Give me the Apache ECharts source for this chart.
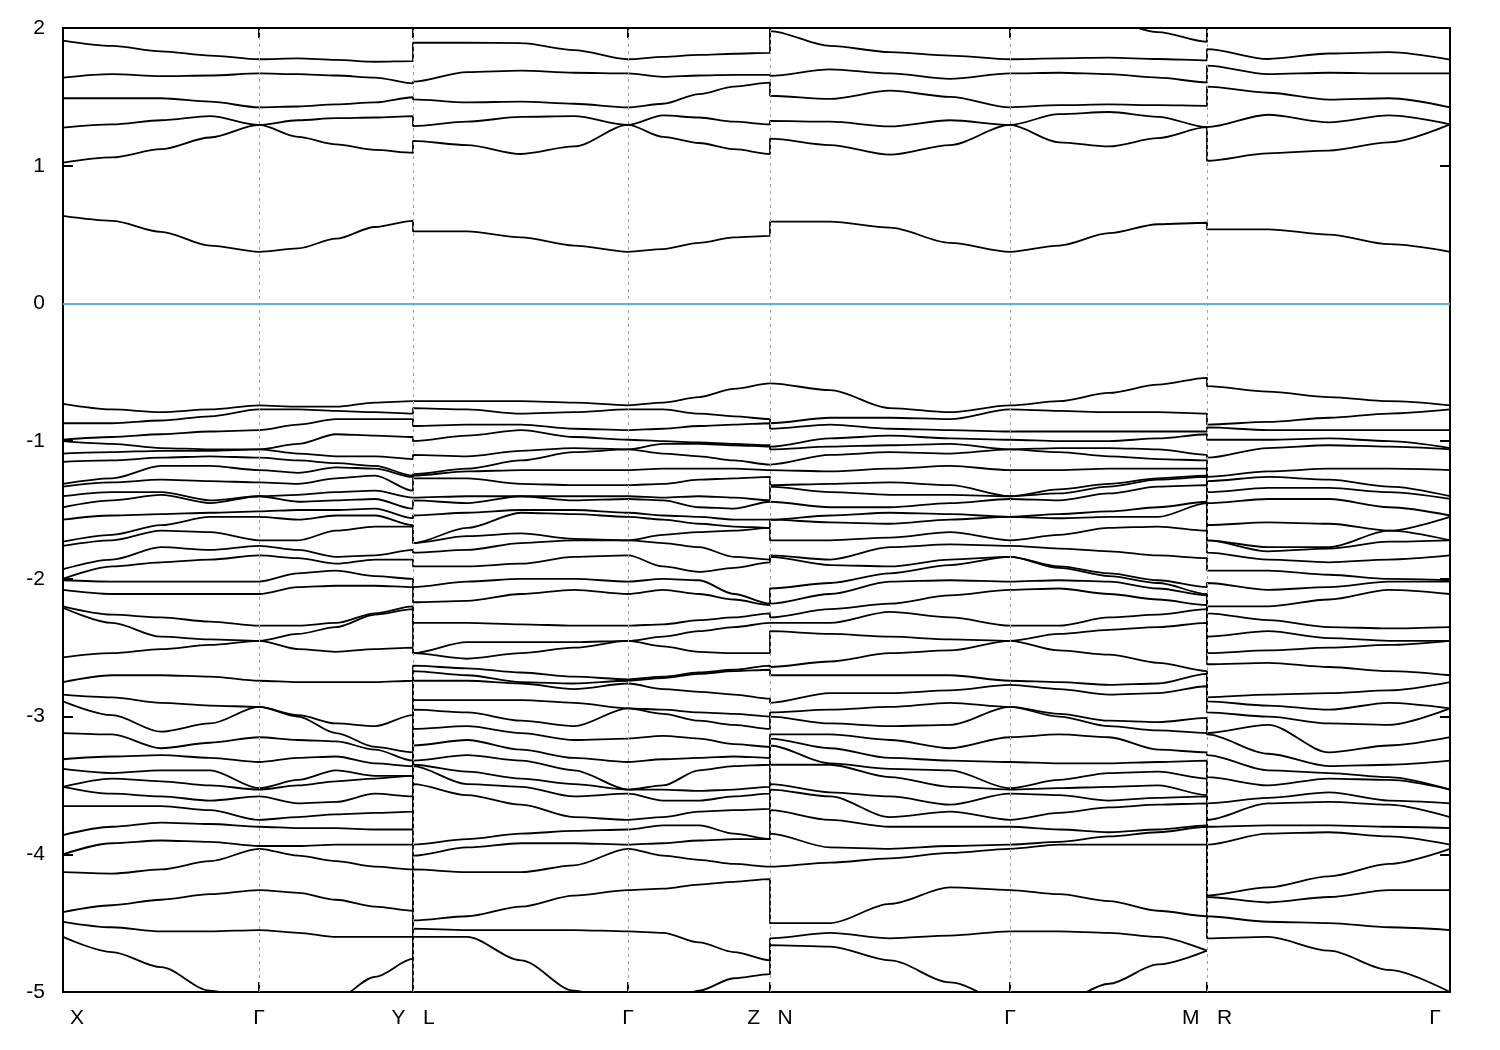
<!DOCTYPE html>
<html><head><meta charset="utf-8">
<script src="https://cdn.jsdelivr.net/npm/echarts@6/dist/echarts.min.js"></script>
<style>html,body{margin:0;padding:0;background:#fff}#c{width:1500px;height:1050px}</style>
</head><body><div id="c"></div>
<script>
// High-symmetry points (path coordinate) and their labels
const kTicks = [0, 196, 350, 565, 707, 947, 1144, 1387];
const kLabels = ['X', 'Γ', 'Y   L', 'Γ', 'Z   N', 'Γ', 'M   R', 'Γ'];
const yTicks = [-5, -4, -3, -2, -1, 0, 1, 2];

// k sample positions of the four continuous pieces
const k1 = [0, 49, 98, 147, 196, 235, 273, 312, 350];       // X - Γ - Y
const k2 = [350, 404, 458, 511, 565, 600, 636, 671, 707];   // L - Γ - Z
const k3 = [707, 767, 827, 887, 947, 996, 1046, 1095, 1144];// N - Γ - M
const k4 = [1144, 1205, 1266, 1326, 1387];                  // R - Γ

// Energies (eV), conduction bands
const p1Cond = [
[0.635,0.60,0.52,0.42,0.375,0.40,0.47,0.555,0.60],
[1.022,1.06,1.12,1.205,1.296,1.21,1.155,1.115,1.094],
[1.276,1.30,1.33,1.36,1.296,1.33,1.345,1.35,1.36],
[1.49,1.49,1.49,1.465,1.424,1.43,1.445,1.46,1.497],
[1.64,1.665,1.65,1.655,1.67,1.665,1.655,1.64,1.598],
[1.908,1.87,1.83,1.80,1.773,1.78,1.768,1.755,1.76],
[2.2,2.2,2.2,2.2,2.2,2.2,2.2,2.2,2.2]];
const p2Cond = [
[0.523,0.523,0.48,0.42,0.375,0.395,0.44,0.48,0.49],
[1.18,1.15,1.085,1.14,1.296,1.21,1.165,1.12,1.085],
[1.288,1.32,1.355,1.36,1.296,1.365,1.35,1.32,1.30],
[1.482,1.46,1.465,1.45,1.424,1.45,1.52,1.575,1.603],
[1.61,1.68,1.69,1.675,1.67,1.645,1.655,1.66,1.66],
[1.893,1.893,1.89,1.84,1.773,1.79,1.805,1.813,1.82],
[2.2,2.2,2.2,2.2,2.2,2.2,2.2,2.2,2.2]];
const p3Cond = [
[0.594,0.594,0.55,0.44,0.375,0.42,0.51,0.575,0.586],
[1.196,1.15,1.08,1.15,1.296,1.17,1.14,1.2,1.28],
[1.325,1.32,1.285,1.33,1.296,1.375,1.39,1.355,1.28],
[1.508,1.485,1.545,1.50,1.424,1.44,1.445,1.44,1.435],
[1.653,1.70,1.67,1.63,1.67,1.675,1.665,1.64,1.605],
[1.978,1.87,1.825,1.80,1.773,1.78,1.785,1.775,1.765],
[2.25,2.22,2.2,2.18,2.15,2.12,2.05,1.97,1.90]];
const p4Cond = [
[0.538,0.538,0.50,0.43,0.375],
[1.036,1.09,1.11,1.17,1.30],
[1.28,1.37,1.315,1.365,1.30],
[1.574,1.53,1.48,1.49,1.424],
[1.727,1.665,1.675,1.67,1.67],
[1.847,1.775,1.815,1.825,1.77],
[2.1,2.1,2.1,2.1,2.1]];

// Energies (eV), valence bands
const p1Val = [
[-0.73,-0.77,-0.79,-0.77,-0.74,-0.75,-0.75,-0.72,-0.71],
[-0.87,-0.87,-0.85,-0.82,-0.77,-0.77,-0.78,-0.79,-0.80],
[-0.99,-0.97,-0.95,-0.93,-0.92,-0.88,-0.84,-0.84,-0.84],
[-1.00,-1.02,-1.05,-1.06,-1.06,-1.02,-0.95,-0.96,-0.97],
[-1.09,-1.08,-1.07,-1.07,-1.06,-1.09,-1.11,-1.11,-1.13],
[-1.15,-1.14,-1.12,-1.11,-1.12,-1.14,-1.16,-1.18,-1.25],
[-1.31,-1.27,-1.18,-1.18,-1.21,-1.23,-1.19,-1.20,-1.26],
[-1.33,-1.30,-1.28,-1.29,-1.30,-1.31,-1.27,-1.25,-1.36],
[-1.40,-1.37,-1.37,-1.43,-1.40,-1.39,-1.37,-1.36,-1.41],
[-1.48,-1.43,-1.39,-1.45,-1.40,-1.44,-1.43,-1.42,-1.49],
[-1.57,-1.54,-1.53,-1.52,-1.51,-1.50,-1.50,-1.49,-1.56],
[-1.73,-1.68,-1.61,-1.55,-1.55,-1.57,-1.54,-1.54,-1.61],
[-1.76,-1.72,-1.65,-1.66,-1.72,-1.72,-1.65,-1.62,-1.62],
[-1.93,-1.86,-1.77,-1.79,-1.76,-1.79,-1.84,-1.83,-1.79],
[-2.00,-1.91,-1.88,-1.86,-1.83,-1.85,-1.89,-1.86,-1.86],
[-2.01,-2.02,-2.02,-2.02,-2.02,-1.96,-1.94,-1.98,-2.00],
[-2.08,-2.11,-2.11,-2.11,-2.11,-2.06,-2.05,-2.05,-2.06],
[-2.20,-2.26,-2.28,-2.31,-2.34,-2.34,-2.32,-2.26,-2.20],
[-2.21,-2.32,-2.42,-2.44,-2.45,-2.40,-2.35,-2.25,-2.22],
[-2.57,-2.54,-2.51,-2.48,-2.45,-2.51,-2.53,-2.51,-2.50],
[-2.75,-2.70,-2.70,-2.71,-2.74,-2.75,-2.75,-2.75,-2.74],
[-2.84,-2.86,-2.90,-2.92,-2.93,-2.99,-3.05,-3.07,-2.99],
[-2.89,-2.99,-3.11,-3.05,-2.93,-3.00,-3.12,-3.22,-3.26],
[-3.12,-3.13,-3.23,-3.19,-3.15,-3.17,-3.18,-3.24,-3.32],
[-3.31,-3.29,-3.28,-3.30,-3.33,-3.30,-3.29,-3.34,-3.36],
[-3.38,-3.41,-3.39,-3.39,-3.52,-3.46,-3.39,-3.43,-3.43],
[-3.51,-3.45,-3.47,-3.50,-3.53,-3.50,-3.47,-3.45,-3.43],
[-3.51,-3.56,-3.58,-3.61,-3.58,-3.63,-3.62,-3.56,-3.58],
[-3.65,-3.65,-3.65,-3.68,-3.75,-3.73,-3.71,-3.70,-3.69],
[-3.86,-3.80,-3.77,-3.78,-3.80,-3.81,-3.81,-3.82,-3.82],
[-4.00,-3.92,-3.90,-3.91,-3.94,-3.94,-3.93,-3.93,-3.93],
[-4.13,-4.14,-4.11,-4.05,-3.96,-4.01,-4.05,-4.09,-4.11],
[-4.42,-4.37,-4.33,-4.29,-4.26,-4.28,-4.33,-4.38,-4.41],
[-4.49,-4.53,-4.56,-4.56,-4.55,-4.57,-4.60,-4.60,-4.60],
[-4.60,-4.71,-4.82,-4.99,-5.08,-5.08,-5.05,-4.89,-4.76],
[-5.00,-5.02,-5.11,-5.20,-5.28,-5.28,-5.23,-5.18,-5.13]];
const p2Val = [
[-0.71,-0.71,-0.71,-0.72,-0.74,-0.72,-0.68,-0.62,-0.58],
[-0.76,-0.77,-0.80,-0.79,-0.77,-0.77,-0.80,-0.82,-0.84],
[-0.89,-0.88,-0.88,-0.91,-0.92,-0.91,-0.89,-0.88,-0.87],
[-1.00,-0.96,-0.92,-0.97,-0.99,-1.00,-1.02,-1.03,-1.04],
[-1.10,-1.11,-1.07,-1.05,-1.06,-1.02,-1.01,-1.02,-1.03],
[-1.25,-1.20,-1.14,-1.08,-1.06,-1.09,-1.11,-1.14,-1.17],
[-1.24,-1.22,-1.21,-1.21,-1.21,-1.20,-1.20,-1.20,-1.21],
[-1.27,-1.27,-1.31,-1.32,-1.32,-1.31,-1.28,-1.27,-1.26],
[-1.41,-1.40,-1.40,-1.43,-1.40,-1.43,-1.48,-1.49,-1.43],
[-1.43,-1.45,-1.40,-1.40,-1.42,-1.41,-1.40,-1.41,-1.44],
[-1.54,-1.52,-1.50,-1.50,-1.52,-1.54,-1.55,-1.57,-1.57],
[-1.74,-1.63,-1.52,-1.53,-1.55,-1.57,-1.60,-1.62,-1.63],
[-1.74,-1.69,-1.67,-1.71,-1.72,-1.68,-1.66,-1.65,-1.63],
[-1.81,-1.79,-1.74,-1.72,-1.72,-1.74,-1.77,-1.84,-1.86],
[-1.91,-1.91,-1.89,-1.84,-1.83,-1.91,-1.95,-1.92,-1.88],
[-2.06,-2.02,-2.00,-2.00,-2.02,-2.00,-2.01,-2.11,-2.18],
[-2.17,-2.16,-2.11,-2.08,-2.11,-2.08,-2.11,-2.15,-2.19],
[-2.32,-2.32,-2.33,-2.34,-2.34,-2.33,-2.30,-2.28,-2.25],
[-2.54,-2.46,-2.46,-2.46,-2.45,-2.49,-2.53,-2.54,-2.54],
[-2.54,-2.58,-2.54,-2.50,-2.45,-2.42,-2.38,-2.35,-2.32],
[-2.63,-2.65,-2.68,-2.71,-2.73,-2.72,-2.69,-2.66,-2.63],
[-2.67,-2.70,-2.76,-2.80,-2.74,-2.71,-2.68,-2.67,-2.66],
[-2.74,-2.74,-2.75,-2.76,-2.76,-2.80,-2.82,-2.84,-2.87],
[-2.88,-2.88,-2.88,-2.90,-2.94,-2.98,-3.03,-3.06,-3.09],
[-2.95,-2.97,-3.03,-3.07,-2.94,-2.95,-2.97,-2.98,-3.00],
[-3.09,-3.07,-3.12,-3.17,-3.16,-3.14,-3.16,-3.20,-3.22],
[-3.21,-3.17,-3.24,-3.30,-3.33,-3.31,-3.30,-3.29,-3.30],
[-3.32,-3.28,-3.32,-3.39,-3.53,-3.50,-3.39,-3.36,-3.35],
[-3.35,-3.40,-3.45,-3.49,-3.53,-3.53,-3.54,-3.53,-3.51],
[-3.36,-3.49,-3.51,-3.58,-3.56,-3.61,-3.61,-3.58,-3.56],
[-3.49,-3.57,-3.64,-3.73,-3.75,-3.73,-3.69,-3.68,-3.67],
[-3.93,-3.89,-3.85,-3.83,-3.82,-3.79,-3.79,-3.85,-3.89],
[-4.01,-3.95,-3.92,-3.92,-3.93,-3.92,-3.90,-3.89,-3.89],
[-4.11,-4.13,-4.13,-4.08,-3.96,-4.01,-4.04,-4.07,-4.09],
[-4.48,-4.45,-4.38,-4.30,-4.26,-4.25,-4.22,-4.20,-4.18],
[-4.54,-4.55,-4.55,-4.55,-4.56,-4.57,-4.64,-4.71,-4.77],
[-4.60,-4.60,-4.77,-4.99,-5.11,-5.11,-4.99,-4.90,-4.87]];
const p3Val = [
[-0.58,-0.63,-0.76,-0.79,-0.74,-0.71,-0.65,-0.59,-0.54],
[-0.87,-0.83,-0.83,-0.84,-0.77,-0.78,-0.79,-0.79,-0.80],
[-0.91,-0.88,-0.91,-0.92,-0.93,-0.93,-0.93,-0.93,-0.93],
[-1.04,-0.98,-0.96,-0.98,-0.99,-1.00,-1.00,-0.98,-0.95],
[-1.06,-1.04,-1.03,-1.02,-1.06,-1.08,-1.11,-1.13,-1.14],
[-1.17,-1.10,-1.08,-1.09,-1.06,-1.05,-1.05,-1.06,-1.10],
[-1.21,-1.22,-1.20,-1.18,-1.21,-1.21,-1.20,-1.20,-1.20],
[-1.32,-1.31,-1.30,-1.32,-1.40,-1.43,-1.38,-1.33,-1.32],
[-1.33,-1.37,-1.39,-1.39,-1.40,-1.35,-1.31,-1.27,-1.25],
[-1.44,-1.48,-1.48,-1.45,-1.42,-1.38,-1.33,-1.28,-1.26],
[-1.57,-1.54,-1.52,-1.53,-1.55,-1.53,-1.51,-1.48,-1.44],
[-1.57,-1.59,-1.60,-1.57,-1.55,-1.56,-1.55,-1.62,-1.65],
[-1.72,-1.72,-1.70,-1.66,-1.72,-1.68,-1.63,-1.55,-1.45],
[-1.83,-1.86,-1.77,-1.75,-1.76,-1.78,-1.80,-1.83,-1.85],
[-1.84,-1.90,-1.96,-1.90,-1.84,-1.91,-1.96,-2.01,-2.06],
[-2.07,-2.03,-1.91,-1.86,-1.84,-1.92,-1.98,-2.03,-2.11],
[-2.18,-2.11,-2.02,-2.01,-2.02,-2.01,-2.02,-2.07,-2.12],
[-2.28,-2.22,-2.18,-2.12,-2.08,-2.07,-2.11,-2.15,-2.22],
[-2.32,-2.32,-2.24,-2.28,-2.34,-2.34,-2.28,-2.26,-2.19],
[-2.38,-2.40,-2.42,-2.44,-2.45,-2.40,-2.37,-2.35,-2.32],
[-2.64,-2.60,-2.54,-2.52,-2.45,-2.52,-2.55,-2.61,-2.67],
[-2.70,-2.70,-2.70,-2.70,-2.74,-2.75,-2.77,-2.76,-2.69],
[-2.90,-2.83,-2.83,-2.81,-2.77,-2.80,-2.84,-2.83,-2.78],
[-2.97,-2.95,-2.93,-2.90,-2.93,-2.98,-3.03,-3.04,-3.01],
[-3.00,-3.05,-3.07,-3.06,-2.93,-3.00,-3.07,-3.10,-3.12],
[-3.13,-3.13,-3.17,-3.23,-3.15,-3.13,-3.15,-3.24,-3.26],
[-3.16,-3.23,-3.30,-3.32,-3.33,-3.34,-3.34,-3.33,-3.32],
[-3.21,-3.35,-3.38,-3.39,-3.52,-3.46,-3.41,-3.40,-3.45],
[-3.35,-3.34,-3.44,-3.51,-3.53,-3.52,-3.51,-3.50,-3.58],
[-3.49,-3.55,-3.58,-3.64,-3.56,-3.57,-3.61,-3.59,-3.57],
[-3.53,-3.58,-3.73,-3.69,-3.75,-3.70,-3.66,-3.64,-3.63],
[-3.68,-3.75,-3.80,-3.80,-3.80,-3.82,-3.84,-3.82,-3.79],
[-3.85,-3.95,-3.96,-3.94,-3.93,-3.93,-3.93,-3.93,-3.93],
[-4.09,-4.06,-4.03,-3.99,-3.96,-3.91,-3.87,-3.84,-3.80],
[-4.50,-4.50,-4.36,-4.24,-4.26,-4.29,-4.34,-4.41,-4.45],
[-4.61,-4.57,-4.61,-4.59,-4.56,-4.56,-4.57,-4.60,-4.70],
[-4.66,-4.67,-4.77,-4.93,-5.08,-5.08,-4.94,-4.80,-4.70]];
const p4Val = [
[-0.60,-0.64,-0.68,-0.71,-0.74],
[-0.88,-0.86,-0.83,-0.80,-0.77],
[-0.90,-0.92,-0.92,-0.92,-0.92],
[-0.99,-0.99,-0.98,-1.00,-1.05],
[-1.12,-1.05,-1.03,-1.04,-1.06],
[-1.26,-1.22,-1.20,-1.20,-1.21],
[-1.29,-1.26,-1.28,-1.33,-1.40],
[-1.37,-1.34,-1.34,-1.37,-1.42],
[-1.45,-1.42,-1.42,-1.48,-1.54],
[-1.61,-1.59,-1.60,-1.65,-1.72],
[-1.72,-1.77,-1.78,-1.65,-1.55],
[-1.72,-1.80,-1.77,-1.73,-1.72],
[-1.81,-1.86,-1.88,-1.86,-1.83],
[-1.94,-1.94,-1.97,-2.00,-2.01],
[-2.03,-2.08,-2.06,-2.02,-2.11],
[-2.20,-2.20,-2.15,-2.08,-2.02],
[-2.25,-2.30,-2.35,-2.36,-2.35],
[-2.42,-2.38,-2.43,-2.45,-2.45],
[-2.54,-2.52,-2.50,-2.48,-2.45],
[-2.62,-2.61,-2.64,-2.67,-2.70],
[-2.86,-2.84,-2.83,-2.81,-2.75],
[-2.89,-2.92,-2.95,-2.90,-2.94],
[-2.97,-3.00,-3.05,-3.06,-2.94],
[-3.12,-3.06,-3.26,-3.21,-3.15],
[-3.13,-3.27,-3.36,-3.35,-3.32],
[-3.28,-3.39,-3.45,-3.44,-3.53],
[-3.44,-3.50,-3.41,-3.46,-3.53],
[-3.63,-3.59,-3.55,-3.61,-3.63],
[-3.75,-3.63,-3.62,-3.64,-3.73],
[-3.80,-3.79,-3.79,-3.80,-3.81],
[-3.93,-3.85,-3.84,-3.87,-3.93],
[-4.30,-4.24,-4.16,-4.07,-3.96],
[-4.31,-4.35,-4.31,-4.26,-4.26],
[-4.45,-4.49,-4.50,-4.53,-4.55],
[-4.61,-4.60,-4.70,-4.84,-5.00]];

// Build bands: at each k column the energies are ordered, band i = i-th level
const pieces = [
  {k: k1, lines: p1Cond.concat(p1Val)},
  {k: k2, lines: p2Cond.concat(p2Val)},
  {k: k3, lines: p3Cond.concat(p3Val)},
  {k: k4, lines: p4Cond.concat(p4Val)}
];
const N = Math.max.apply(null, pieces.map(p => p.lines.length));
const bands = [];
for (let i = 0; i < N; i++) bands.push([]);
pieces.forEach(p => {
  p.k.forEach((kv, j) => {
    const col = p.lines.map(l => l[j]).sort((a, b) => b - a);
    for (let i = 0; i < N; i++) bands[i].push([kv, i < col.length ? col[i] : null]);
  });
});

const FONT = 'Liberation Sans';
const labelFor = v => {
  let idx = 0, best = Infinity;
  kTicks.forEach((t, i) => { const d = Math.abs(t - v); if (d < best) { best = d; idx = i; } });
  const t = kLabels[idx];
  if (idx === 0) return '{first|' + t + '}';
  if (idx === kTicks.length - 1) return '{last|' + t + '}';
  return t;
};

const series = bands.map((d, i) => ({
  type: 'line', data: d, symbol: 'none', showSymbol: false, silent: true,
  smooth: 0.3, smoothMonotone: 'x', clip: true, z: 3,
  lineStyle: {color: '#000', width: 1.8}
}));
series[0].markLine = {
  silent: true, symbol: 'none', label: {show: false}, animation: false,
  data: kTicks.slice(1, -1).map(v => ({xAxis: v, lineStyle: {color: '#a0a0a0', width: 1, type: [3, 4]}}))
    .concat([{yAxis: 0, lineStyle: {color: '#56b4e9', width: 2, type: 'solid'}}])
};

const chart = echarts.init(document.getElementById('c'), null, {renderer: 'canvas'});
chart.setOption({
  animation: false,
  backgroundColor: '#fff',
  grid: {left: 63, right: 50, top: 28, bottom: 58, containLabel: false},
  xAxis: [{
    type: 'value', min: 0, max: 1387, position: 'bottom',
    axisLine: {show: true, onZero: false, lineStyle: {color: '#000', width: 2}},
    axisTick: {show: true, inside: true, length: 10, customValues: kTicks, lineStyle: {color: '#000', width: 2}},
    axisLabel: {
      show: true, customValues: kTicks, margin: 16, color: '#000', fontSize: 21, fontFamily: FONT,
      formatter: labelFor,
      rich: {
        first: {padding: [0, 0, 0, 28], color: '#000', fontSize: 21, fontFamily: FONT},
        last: {padding: [0, 30, 0, 0], color: '#000', fontSize: 21, fontFamily: FONT}
      }
    },
    splitLine: {show: false}
  }, {
    type: 'value', min: 0, max: 1387, position: 'top',
    axisLine: {show: true, onZero: false, lineStyle: {color: '#000', width: 2}},
    axisTick: {show: true, inside: true, length: 10, customValues: kTicks, lineStyle: {color: '#000', width: 2}},
    axisLabel: {show: false}, splitLine: {show: false}
  }],
  yAxis: [{
    type: 'value', min: -5, max: 2, interval: 1, position: 'left',
    axisLine: {show: true, onZero: false, lineStyle: {color: '#000', width: 2}},
    axisTick: {show: true, inside: true, length: 10, lineStyle: {color: '#000', width: 2}},
    axisLabel: {show: true, margin: 18, color: '#000', fontSize: 21, fontFamily: FONT},
    splitLine: {show: false}
  }, {
    type: 'value', min: -5, max: 2, interval: 1, position: 'right',
    axisLine: {show: true, onZero: false, lineStyle: {color: '#000', width: 2}},
    axisTick: {show: true, inside: true, length: 10, lineStyle: {color: '#000', width: 2}},
    axisLabel: {show: false}, splitLine: {show: false}
  }],
  series: series
});
</script></body></html>
